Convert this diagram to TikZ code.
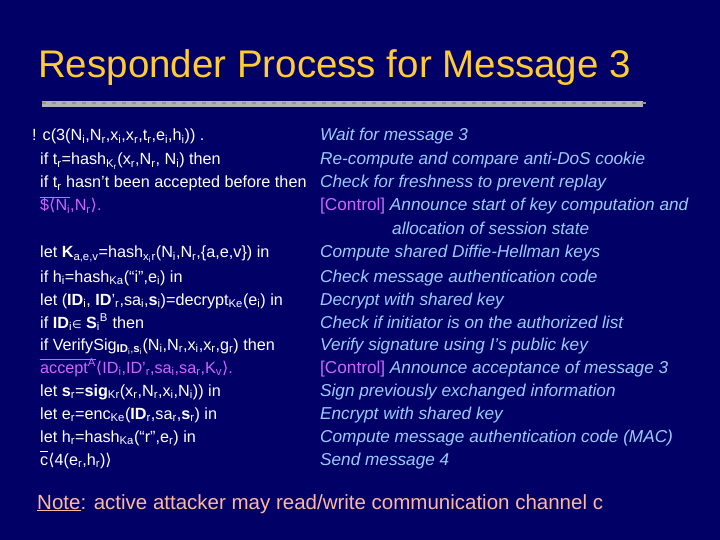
\documentclass[tikz,border=0pt]{standalone}
\usepackage{fontspec}
\setmainfont{Liberation Sans}
\newfontfamily\symf{DejaVu Sans}
\definecolor{bg}{HTML}{000066}
\definecolor{ttl}{HTML}{FFCC33}
\definecolor{rcol}{HTML}{99CCFF}
\definecolor{ctl}{HTML}{CC66FF}
\definecolor{note}{HTML}{FFB8A0}
\newcommand\sbs[1]{\textsubscript{#1}}
\newcommand\sps[1]{\textsuperscript{#1}}
\newcommand\ovl[1]{\setbox0\hbox{#1}\rlap{\rule[0.8em]{\wd0}{0.6pt}}\box0}
\newcommand\la{{\symf⟨}}
\newcommand\ra{{\symf⟩}}
\begin{document}
\begin{tikzpicture}[x=1pt,y=-1pt,
  lt/.style={anchor=base west,inner sep=0,text=white,font=\fontsize{16.2}{18}\selectfont},
  rt/.style={anchor=base west,inner sep=0,text=rcol,font=\fontsize{17.2}{18}\selectfont\itshape},
  ct/.style={text=ctl}]
\fill[bg] (0,0) rectangle (720,540);
\useasboundingbox (0,0) rectangle (720,540);
\node[anchor=base west,inner sep=0,text=ttl,font=\fontsize{38.5}{42}\selectfont] (title) at (38,78) {Responder Process for Message 3};
\fill[gray!60] (42,101) rectangle (643,107);
\foreach \i in {0,...,60}{\fill[gray!85] (42+\i*10,102) rectangle (46+\i*10,104);}
\node[lt] (l1) at (32,141) {! c(3(N\sbs{i},N\sbs{r},x\sbs{i},x\sbs{r},t\sbs{r},e\sbs{i},h\sbs{i})) .};
\node[lt] (l2) at (40,165) {if t\sbs{r}=hash\sbs{K\sbs{r}}(x\sbs{r},N\sbs{r}, N\sbs{i}) then};
\node[lt] (l3) at (40,188) {if t\sbs{r} hasn’t been accepted before then};
\node[lt,ct] (l4) at (40,211) {\ovl{\$\la N\sbs{i}},N\sbs{r}\ra .};
\node[lt] (l5) at (40,258) {let \textbf{K}\sbs{a,e,v}=hash\sbs{x\sbs{i}}\sbs{r}(N\sbs{i},N\sbs{r},\{a,e,v\}) in};
\node[lt] (l6) at (40,282) {if h\sbs{i}=hash\sbs{Ka}(“i”,e\sbs{i}) in};
\node[lt] (l7) at (40,305) {let (\textbf{ID}\sbs{i}, \textbf{ID}’\sbs{r},sa\sbs{i},\textbf{s}\sbs{i})=decrypt\sbs{Ke}(e\sbs{i}) in};
\node[lt] (l8) at (40,328) {if \textbf{ID}\sbs{i}{\symf\fontsize{11}{12}\selectfont∈} \textbf{S}\sbs{i}\sps{B} then};
\node[lt] (l9) at (40,350) {if VerifySig\sbs{\textbf{ID}\sbs{i},\textbf{s}\sbs{i}}(N\sbs{i},N\sbs{r},x\sbs{i},x\sbs{r},g\sbs{r}) then};
\node[lt,ct] (l10) at (40,373) {\ovl{accept\sps{A}} \la ID\sbs{i},ID’\sbs{r},sa\sbs{i},sa\sbs{r},K\sbs{v}\ra .};
\node[lt] (l11) at (40,396) {let \textbf{s}\sbs{r}=\textbf{sig}\sbs{Kr}(x\sbs{r},N\sbs{r},x\sbs{i},N\sbs{i})) in};
\node[lt] (l12) at (40,419) {let e\sbs{r}=enc\sbs{Ke}(\textbf{ID}\sbs{r},sa\sbs{r},\textbf{s}\sbs{r}) in};
\node[lt] (l13) at (40,442) {let h\sbs{r}=hash\sbs{Ka}(“r”,e\sbs{r}) in};
\node[lt] (l14) at (40,465) {\ovl{c}\la 4(e\sbs{r},h\sbs{r})\ra};
\node[rt] (r1) at (320,141) {Wait for message 3};
\node[rt] (r2) at (320,165) {Re-compute and compare anti-DoS cookie};
\node[rt] (r3) at (320,188) {Check for freshness to prevent replay};
\node[rt] (r4) at (320,211) {{\upshape\color{ctl}[Control]} Announce start of key computation and};
\node[rt] (r4b) at (392,234) {allocation of session state};
\node[rt] (r5) at (320,258) {Compute shared Diffie-Hellman keys};
\node[rt] (r6) at (320,282) {Check message authentication code};
\node[rt] (r7) at (320,305) {Decrypt with shared key};
\node[rt] (r8) at (320,328) {Check if initiator is on the authorized list};
\node[rt] (r9) at (320,350) {Verify signature using I’s public key};
\node[rt] (r10) at (320,373) {{\upshape\color{ctl}[Control]} Announce acceptance of message 3};
\node[rt] (r11) at (320,396) {Sign previously exchanged information};
\node[rt] (r12) at (320,419) {Encrypt with shared key};
\node[rt] (r13) at (320,442) {Compute message authentication code (MAC)};
\node[rt] (r14) at (320,465) {Send message 4};
\node[anchor=base west,inner sep=0,text=note,font=\fontsize{20.5}{22}\selectfont] (note) at (37,509) {\underline{Note}: active attacker may read/write communication channel c};
\end{tikzpicture}
\end{document}
